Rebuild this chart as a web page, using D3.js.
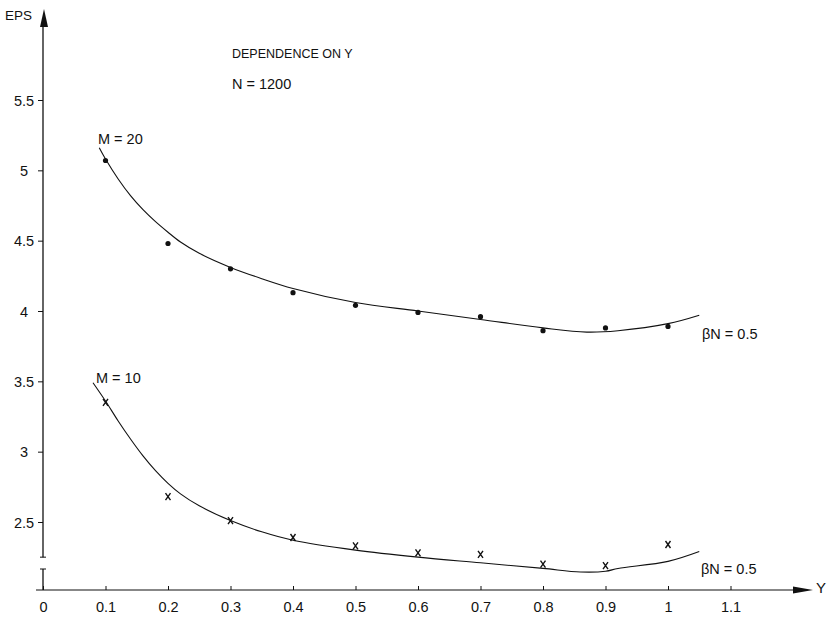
<!DOCTYPE html>
<meta charset="utf-8">
<style>
body { margin: 0; background: #fff; }
text { font-family: "Liberation Sans", Arial, sans-serif; fill: #111; }
.tick text { font-size: 14.5px; }
.note { font-size: 14.5px; }
.curve { fill: none; stroke: #111; stroke-width: 1.1; }
</style>
<body>
<div id="chart"></div>
<script src="https://cdn.jsdelivr.net/npm/d3@7"></script>
<script>

var width = 829,
    height = 620;

// measured points
var yValues = [0.1, 0.2, 0.3, 0.4, 0.5, 0.6, 0.7, 0.8, 0.9, 1.0];
var epsM20 = [5.07, 4.48, 4.30, 4.13, 4.04, 3.99, 3.96, 3.86, 3.88, 3.89];
var epsM10 = [3.35, 2.68, 2.51, 2.39, 2.33, 2.28, 2.27, 2.20, 2.19, 2.34];

// hand-drawn fitted curves
var fitM20x = [0.09, 0.1, 0.12, 0.14, 0.16, 0.18, 0.2, 0.22, 0.25, 0.3, 0.35, 0.4, 0.5, 0.6, 0.7, 0.8, 0.87, 0.92, 1.0, 1.05];
var fitM20y = [5.16, 5.08, 4.94, 4.82, 4.72, 4.635, 4.56, 4.49, 4.41, 4.31, 4.23, 4.16, 4.06, 4.00, 3.94, 3.88, 3.85, 3.86, 3.91, 3.97];
var fitM10x = [0.08, 0.1, 0.12, 0.14, 0.16, 0.18, 0.2, 0.22, 0.25, 0.3, 0.35, 0.4, 0.5, 0.6, 0.7, 0.8, 0.86, 0.9, 0.92, 1.0, 1.05];
var fitM10y = [3.49, 3.36, 3.22, 3.09, 2.97, 2.865, 2.775, 2.70, 2.615, 2.51, 2.43, 2.37, 2.30, 2.25, 2.21, 2.17, 2.145, 2.15, 2.17, 2.22, 2.29];

var xTicks = [0, 0.1, 0.2, 0.3, 0.4, 0.5, 0.6, 0.7, 0.8, 0.9, 1, 1.1];
var yTicks = [2.5, 3, 3.5, 4, 4.5, 5, 5.5];

var x = d3.scaleLinear().domain([0, 1.1]).range([43, 730.5]);
var y = d3.scaleLinear().domain([2.5, 5.5]).range([522, 100]);

var baseY = 590,      // broken axis: x axis drawn below the break
    breakTop = 2.25;

var svg = d3.select("#chart").append("svg")
    .attr("width", width)
    .attr("height", height);

// y axis (upper part)
svg.append("line")
    .attr("x1", x(0)).attr("x2", x(0))
    .attr("y1", y(breakTop)).attr("y2", 22)
    .attr("stroke", "#111").attr("stroke-width", 1.3);
svg.append("path")
    .attr("d", "M" + (x(0) + 1) + ",9 L" + (x(0) - 3) + ",27 L" + (x(0) + 5) + ",27 Z")
    .attr("fill", "#111");
// break serifs
svg.append("line")
    .attr("x1", x(0) - 3).attr("x2", x(0) + 3)
    .attr("y1", y(breakTop)).attr("y2", y(breakTop))
    .attr("stroke", "#111");
svg.append("line")
    .attr("x1", x(0)).attr("x2", x(0))
    .attr("y1", baseY - 21).attr("y2", baseY)
    .attr("stroke", "#111").attr("stroke-width", 1.3);
svg.append("line")
    .attr("x1", x(0) - 3).attr("x2", x(0) + 3)
    .attr("y1", baseY - 21).attr("y2", baseY - 21)
    .attr("stroke", "#111");

var yAxis = svg.append("g")
    .attr("transform", "translate(" + x(0) + ",0)")
    .call(d3.axisLeft(y).tickValues(yTicks).tickSize(5).tickSizeOuter(0)
      .tickFormat(function(d) { return String(d); }));
yAxis.select(".domain").remove();
yAxis.selectAll(".tick line").attr("stroke", "#111");
yAxis.selectAll(".tick text")
    .attr("x", -19)
    .attr("text-anchor", "middle")
    .attr("dy", "0.35em");

// x axis
svg.append("line")
    .attr("x1", 36).attr("x2", 800)
    .attr("y1", baseY).attr("y2", baseY)
    .attr("stroke", "#111").attr("stroke-width", 1.2);
svg.append("path")
    .attr("d", "M813," + baseY + " L793," + (baseY - 3.5) + " L793," + (baseY + 3.5) + " Z")
    .attr("fill", "#111");

var xAxis = svg.append("g")
    .attr("transform", "translate(0," + baseY + ")")
    .call(d3.axisTop(x).tickValues(xTicks).tickSize(4).tickSizeOuter(0)
      .tickFormat(function(d) { return String(d); }));
xAxis.select(".domain").remove();
xAxis.selectAll(".tick line").attr("stroke", "#111");
xAxis.selectAll(".tick text")
    .attr("y", 17)
    .attr("dy", "0.35em");

svg.append("text").attr("x", 5).attr("y", 20).style("font-size", "13.5px").text("EPS");
svg.append("text").attr("x", 816).attr("y", 593).style("font-size", "15px").text("Y");

// fitted curves
var line = d3.line()
    .x(function(d) { return x(d[0]); })
    .y(function(d) { return y(d[1]); })
    .curve(d3.curveCatmullRom);

svg.append("path")
    .attr("class", "curve")
    .attr("d", line(d3.zip(fitM20x, fitM20y)));
svg.append("path")
    .attr("class", "curve")
    .attr("d", line(d3.zip(fitM10x, fitM10y)));

// M = 20 dots
svg.selectAll("circle.m20")
    .data(d3.zip(yValues, epsM20))
    .enter().append("circle")
    .attr("class", "m20")
    .attr("cx", function(d) { return x(d[0]); })
    .attr("cy", function(d) { return y(d[1]); })
    .attr("r", 2.6)
    .attr("fill", "#111");

// M = 10 crosses
svg.selectAll("path.m10")
    .data(d3.zip(yValues, epsM10))
    .enter().append("path")
    .attr("class", "m10")
    .attr("transform", function(d) { return "translate(" + x(d[0]) + "," + y(d[1]) + ")"; })
    .attr("d", "M-2.5,-3.5L2.5,3.5M2.5,-3.5L-2.5,3.5")
    .attr("stroke", "#111")
    .attr("stroke-width", 1.4);

// annotations
svg.append("text").attr("x", 232).attr("y", 58).style("font-size", "12.5px").text("DEPENDENCE ON Y");
svg.append("text").attr("class", "note").attr("x", 232).attr("y", 89).text("N = 1200");
svg.append("text").attr("class", "note").attr("x", 98).attr("y", 144).text("M = 20");
svg.append("text").attr("class", "note").attr("x", 96).attr("y", 383).text("M = 10");
svg.append("text").attr("class", "note").attr("x", 702).attr("y", 339).text("\u03b2N = 0.5");
svg.append("text").attr("class", "note").attr("x", 701).attr("y", 574).text("\u03b2N = 0.5");

</script>
</body>
